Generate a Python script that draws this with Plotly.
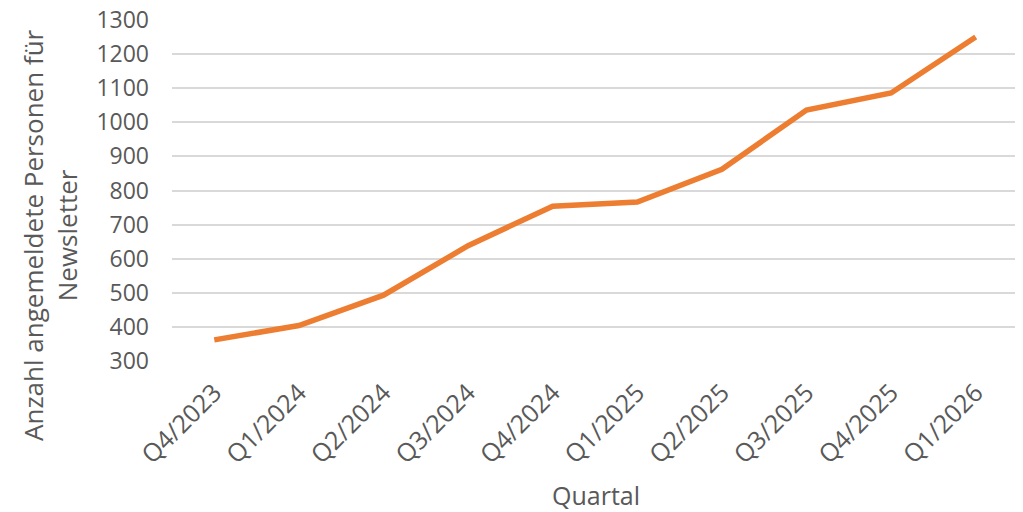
import plotly.graph_objects as go

quarters = ["Q4/2023", "Q1/2024", "Q2/2024", "Q3/2024", "Q4/2024",
            "Q1/2025", "Q2/2025", "Q3/2025", "Q4/2025", "Q1/2026"]
subscribers = [362, 404, 493, 638, 754, 766, 862, 1036, 1086, 1250]

y_ticks = list(range(300, 1301, 100))

x_title = "Quartal"
y_title = "Anzahl angemeldete Personen für<br>Newsletter"

font_family = "Open Sans, Lato, sans-serif"
text_color = "#595959"

fig = go.Figure()
fig.add_trace(go.Scatter(
    x=quarters, y=subscribers, mode="lines",
    line=dict(color="#ED7D31", width=5.5),
    showlegend=False,
))

fig.update_layout(
    width=1015, height=504,
    paper_bgcolor="white", plot_bgcolor="white",
    margin=dict(l=164, r=5, t=12, b=151, autoexpand=False),
    font=dict(family=font_family, color=text_color, size=23),
    xaxis=dict(
        type="category", range=[-0.5, 9.5], automargin=False,
        tickangle=-45, showgrid=False, showline=False, zeroline=False,
        ticks="outside", ticklen=6, tickcolor="rgba(0,0,0,0)",
        ticklabeloverflow="allow",
        tickfont=dict(size=25, color=text_color),
    ),
    yaxis=dict(
        range=[300, 1300], tickvals=y_ticks, automargin=False,
        showgrid=True, gridcolor="#D9D9D9", gridwidth=1.8,
        zeroline=False, showline=False, ticks="",
        ticklabelstandoff=22, ticklabeloverflow="allow",
        tickfont=dict(size=23, color=text_color),
    ),
    annotations=[
        dict(text=y_title, textangle=-90, xref="paper", yref="paper",
             x=-0.144, y=0.37, xanchor="center", yanchor="middle",
             showarrow=False, font=dict(size=26, color=text_color)),
        dict(text=x_title, xref="paper", yref="paper",
             x=0.501, y=-0.393, xanchor="center", yanchor="middle",
             showarrow=False, font=dict(size=25, color=text_color)),
    ],
)

fig.write_html("out.html")
